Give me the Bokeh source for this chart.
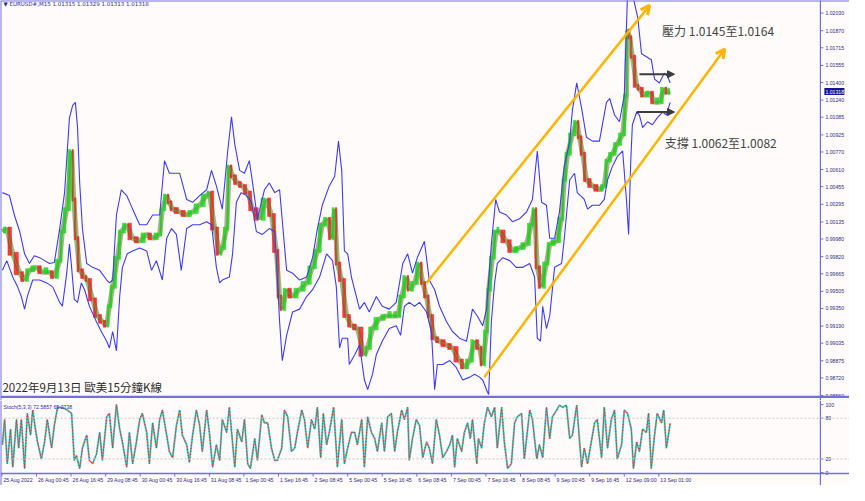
import numpy as np
from bokeh.plotting import figure
from bokeh.models import Range1d, Label, Arrow, NormalHead, OpenHead, Span
from bokeh.layouts import column
from bokeh.embed import file_html
from bokeh.resources import INLINE
from bokeh.core.properties import value

# ---------------- data ----------------
# 15-minute bar index and close price
price_bar = [1, 9, 20, 33, 42, 51, 64, 75, 88, 97,
             107, 112, 120, 129, 133, 138, 144, 153, 158, 168,
             177, 186, 194, 199, 205, 214, 221, 231, 242, 255,
             268, 279, 292, 297, 305, 310, 316, 329, 342, 353,
             366, 379, 384, 394, 403, 408, 416, 421, 427, 436,
             445, 455, 464, 477, 490, 499, 508, 514, 519, 527,
             538, 551, 564, 575, 584, 593, 603, 610, 616, 621,
             629, 638, 647, 658, 671, 677, 686, 699, 712, 723,
             733, 740, 749, 754, 764, 773, 779, 786, 792, 801,
             810, 823, 834, 847, 856, 866, 875, 884, 890, 897,
             901, 908, 915, 921, 934, 945, 958, 971, 980, 986,
             991, 999, 1008, 1014, 1027, 1036, 1041, 1047, 1056, 1064,
             1069, 1075, 1082, 1093, 1106, 1115, 1121, 1130, 1139, 1149,
             1156, 1158, 1162, 1167, 1175, 1180, 1189, 1199, 1208, 1217,
             1226, 1232, 1237]
price_close = [1.00048, 1.00075, 0.99846, 0.99670, 0.99608, 0.99696, 0.99723, 0.99679, 0.99679, 0.99635,
               0.99784, 1.00048, 1.00251, 1.00779, 1.00339, 0.99987, 0.99696, 0.99635, 0.99608, 0.99432,
               0.99282, 0.99229, 0.99194, 0.99370, 0.99546, 0.99811, 1.00048, 1.00110, 0.99987, 0.99960,
               1.00022, 0.99987, 1.00022, 1.00251, 1.00374, 1.00313, 1.00251, 1.00225, 1.00198, 1.00225,
               1.00286, 1.00374, 1.00401, 1.00075, 0.99846, 0.99899, 1.00075, 1.00639, 1.00550, 1.00489,
               1.00462, 1.00401, 1.00251, 1.00163, 1.00339, 1.00198, 0.99872, 0.99458, 0.99344, 0.99520,
               0.99458, 0.99520, 0.99582, 0.99723, 0.99872, 1.00110, 1.00163, 0.99987, 1.00251, 0.99758,
               0.99608, 0.99282, 0.99194, 0.99168, 0.98930, 0.98992, 0.99168, 0.99256, 0.99282, 0.99282,
               0.99282, 0.99458, 0.99635, 0.99520, 0.99582, 0.99758, 0.99582, 0.99458, 0.99282, 0.99080,
               0.99053, 0.99018, 0.98992, 0.98877, 0.98815, 0.98877, 0.99053, 0.98992, 0.98842, 0.99141,
               0.99520, 0.99811, 1.00048, 1.00048, 0.99960, 0.99872, 0.99899, 0.99934, 1.00110, 1.00251,
               0.99723, 0.99546, 0.99758, 0.99934, 0.99960, 1.00163, 1.00515, 1.00753, 1.00929, 1.01044,
               1.00903, 1.00753, 1.00515, 1.00462, 1.00427, 1.00462, 1.00691, 1.00753, 1.00841, 1.00929,
               1.01281, 1.01872, 1.01810, 1.01634, 1.01370, 1.01343, 1.01281, 1.01308, 1.01220, 1.01220,
               1.01343, 1.01308, 1.01318]

# upper envelope (blue)
upper_bar = [1, 14, 23, 33, 42, 51, 60, 70, 79, 88,
             97, 107, 116, 125, 131, 136, 140, 144, 149, 157,
             168, 181, 194, 199, 205, 212, 221, 231, 242, 255,
             268, 279, 292, 301, 310, 319, 329, 342, 353, 366,
             379, 388, 397, 408, 418, 425, 431, 440, 449, 458,
             464, 473, 486, 495, 505, 514, 527, 538, 551, 564,
             575, 584, 593, 606, 616, 623, 629, 634, 640, 647,
             662, 671, 680, 693, 704, 717, 730, 742, 751, 760,
             769, 782, 791, 801, 810, 823, 834, 847, 860, 871,
             880, 890, 897, 906, 914, 921, 934, 945, 958, 971,
             982, 991, 999, 1008, 1014, 1023, 1032, 1041, 1051, 1056,
             1064, 1073, 1082, 1093, 1106, 1119, 1125, 1134, 1143, 1152,
             1158, 1167, 1177, 1184, 1193, 1202, 1208, 1217, 1226, 1232,
             1237]
upper_val = [1.00401, 1.00374, 1.00198, 1.00048, 0.99846, 0.99758, 0.99828, 0.99811, 0.99784, 0.99758,
             0.99767, 1.00075, 1.00401, 1.01079, 1.01193, 1.01220, 1.00991, 1.00489, 1.00075, 0.99758,
             0.99723, 0.99696, 0.99608, 0.99582, 0.99608, 1.00198, 1.00427, 1.00374, 1.00251, 1.00110,
             1.00110, 1.00198, 1.00198, 1.00691, 1.00577, 1.00577, 1.00577, 1.00339, 1.00313, 1.00374,
             1.00427, 1.00603, 1.00462, 1.00251, 1.00779, 1.01088, 1.00841, 1.00603, 1.00577, 1.00691,
             1.00489, 1.00163, 1.00427, 1.00489, 1.00401, 1.00427, 0.99696, 0.99670, 0.99608, 0.99635,
             0.99811, 1.00075, 1.00286, 1.00462, 1.00550, 1.00868, 1.00603, 0.99872, 0.99846, 0.99635,
             0.99344, 0.99405, 0.99318, 0.99458, 0.99370, 0.99344, 0.99405, 0.99758, 0.99846, 0.99670,
             0.99811, 0.99960, 0.99608, 0.99520, 0.99370, 0.99229, 0.99141, 0.99080, 0.99053, 0.99344,
             0.99282, 0.99194, 0.99344, 0.99934, 1.00339, 1.00225, 1.00198, 1.00137, 1.00163, 1.00225,
             1.00339, 1.00779, 1.00313, 1.00286, 0.99987, 0.99987, 1.00225, 1.00639, 1.00868, 1.01150,
             1.01396, 1.01167, 1.00903, 1.00868, 1.00868, 1.01220, 1.01255, 1.01105, 1.01044, 1.01281,
             1.02206, 1.02206, 1.01986, 1.01660, 1.01634, 1.01607, 1.01431, 1.01396, 1.01484, 1.01458,
             1.01396]

# lower envelope (blue)
lower_bar = [1, 9, 20, 29, 36, 42, 47, 57, 70, 83,
             94, 107, 112, 120, 125, 129, 134, 140, 147, 153,
             162, 175, 184, 194, 199, 205, 212, 218, 223, 232,
             242, 255, 268, 277, 286, 297, 305, 314, 323, 332,
             342, 353, 366, 379, 388, 397, 403, 408, 421, 427,
             434, 443, 453, 462, 471, 482, 495, 505, 510, 514,
             519, 527, 538, 551, 564, 575, 588, 601, 612, 619,
             625, 630, 640, 643, 653, 662, 671, 677, 686, 693,
             704, 717, 730, 738, 745, 754, 764, 773, 786, 795,
             801, 806, 816, 829, 841, 853, 866, 875, 884, 890,
             897, 901, 906, 912, 917, 927, 940, 952, 964, 977,
             986, 991, 997, 1001, 1008, 1014, 1023, 1036, 1041, 1051,
             1060, 1065, 1078, 1084, 1093, 1106, 1115, 1121, 1130, 1139,
             1149, 1156, 1160, 1164, 1167, 1175, 1180, 1186, 1195, 1204,
             1213, 1223, 1230, 1237]
lower_val = [0.99696, 0.99784, 0.99635, 0.99546, 0.99458, 0.99344, 0.99458, 0.99608, 0.99608, 0.99582,
             0.99546, 0.99405, 0.99370, 0.99670, 0.99934, 0.99723, 0.99432, 0.99405, 0.99582, 0.99520,
             0.99370, 0.99229, 0.99141, 0.99053, 0.98992, 0.99141, 0.98965, 0.99458, 0.99723, 0.99846,
             0.99872, 0.99899, 0.99872, 0.99696, 0.99784, 0.99608, 0.99987, 1.00075, 1.00022, 0.99696,
             1.00075, 1.00110, 1.00110, 1.00137, 1.00110, 0.99723, 0.99582, 0.99608, 0.99635, 0.99846,
             1.00313, 1.00401, 1.00374, 1.00313, 1.00048, 1.00022, 1.00075, 1.00048, 0.99608, 0.99229,
             0.98877, 0.99106, 0.99318, 0.99344, 0.99458, 0.99520, 0.99635, 0.99846, 0.99784, 0.99546,
             0.98992, 0.99080, 0.99080, 0.98842, 0.98930, 0.99018, 0.98701, 0.98613, 0.98754, 0.98930,
             0.99053, 0.99168, 0.99194, 0.99106, 0.99370, 0.99405, 0.99370, 0.99405, 0.99318, 0.99141,
             0.98613, 0.98842, 0.98842, 0.98877, 0.98815, 0.98701, 0.98727, 0.98754, 0.98727, 0.98701,
             0.98613, 0.98569, 0.99229, 0.99582, 0.99758, 0.99811, 0.99784, 0.99723, 0.99723, 0.99758,
             0.99635, 0.99080, 0.99053, 0.99370, 0.99168, 0.99282, 0.99723, 0.99758, 0.99987, 1.00515,
             1.00577, 1.00401, 1.00339, 1.00251, 1.00286, 1.00286, 1.00339, 1.00515, 1.00639, 1.00727,
             1.00779, 1.00339, 1.00022, 1.00691, 1.01017, 1.01132, 1.01105, 1.00991, 1.01044, 1.01017,
             1.01079, 1.01132, 1.01105, 1.01220]

# Stochastic %K
stoch_bar = [1, 5, 10, 16, 20, 27, 31, 36, 42, 47, 53, 57, 62, 66, 73, 79, 84, 92, 97, 103,
             110, 116, 121, 129, 134, 138, 144, 149, 157, 162, 168, 175, 181, 186, 194, 199, 205, 212, 218, 223,
             231, 236, 242, 249, 255, 260, 268, 273, 279, 286, 292, 297, 305, 310, 316, 323, 329, 334, 342, 347,
             353, 360, 366, 371, 379, 384, 390, 397, 403, 408,
             416, 421, 431, 436, 444, 449, 455, 460, 468, 473, 481, 486, 492, 499, 505, 510, 518, 523, 529, 536,
             542, 547, 555, 560, 566, 573, 579, 584, 590, 595, 601, 606, 614, 621, 629, 634, 640, 647, 653, 658,
             666, 671, 677, 684, 690, 695, 703, 708, 714, 721, 727, 732, 740, 745, 751, 754, 760, 767, 773, 779,
             786, 791, 797, 804, 810, 816, 823,
             829, 834, 838, 843, 851, 856, 862, 867, 871, 879, 882, 888, 893, 899, 906, 912, 917, 925, 930, 936,
             943, 949, 954, 962, 967, 977, 982, 990, 995, 1001, 1008, 1014, 1019, 1027, 1032, 1038, 1045, 1051, 1056, 1064,
             1073, 1078, 1084, 1091, 1097, 1102, 1110, 1115, 1121, 1128, 1134, 1139, 1147, 1152, 1158, 1165, 1169, 1175, 1180, 1186,
             1193, 1197, 1202, 1208, 1213, 1221, 1225, 1230, 1237]
stoch_k = [41, 78, 13, 64, 8, 78, 36, 78, 6, 87, 55, 92, 64, 45, 20, 45, 78, 36, 69, 96,
           96, 94, 92, 87, 18, 25, 6, 36, 55, 18, 13, 27, 59, 18, 82, 87, 36, 100, 64, 45,
           8, 59, 13, 45, 78, 87, 59, 13, 73, 36, 78, 92, 55, 31, 22, 69, 92, 55, 41, 15,
           55, 92, 69, 31, 92, 59, 8, 41, 18, 78,
           59, 96, 8, 64, 45, 78, 13, 6, 50, 18, 85, 73, 73, 36, 18, 18, 36, 92, 82, 31,
           36, 59, 92, 78, 36, 78, 64, 96, 22, 87, 41, 59, 96, 8, 78, 13, 36, 59, 59, 41,
           78, 8, 82, 59, 50, 31, 73, 31, 82, 87, 31, 59, 92, 78, 96, 18, 50, 78, 69, 22,
           45, 36, 13, 78, 55, 22, 31,
           41, 55, 8, 50, 31, 59, 73, 50, 78, 13, 50, 36, 73, 96, 82, 96, 36, 96, 45, 6,
           13, 73, 82, 87, 20, 92, 78, 20, 41, 22, 96, 50, 82, 92, 99, 96, 99, 50, 55, 99,
           8, 36, 13, 45, 73, 78, 22, 96, 36, 78, 92, 20, 41, 92, 87, 64, 6, 45, 31, 64,
           59, 87, 6, 55, 87, 73, 92, 36, 72.59]

price_ticks = [1.02030, 1.01870, 1.01715, 1.01555, 1.01400, 1.01240, 1.01085, 1.00925,
               1.00770, 1.00610, 1.00455, 1.00295, 1.00135, 0.99980, 0.99820, 0.99665,
               0.99505, 0.99350, 0.99190, 0.99035, 0.98875, 0.98720, 0.98560]
stoch_ticks = [0, 20, 80, 100]
stoch_levels = [20, 80]
date_bars = [0, 64, 128, 192, 256, 320, 384, 448, 512, 576, 640, 704, 768, 832, 896,
             960, 1024, 1088, 1152, 1216]
date_labels = ["25 Aug 2022", "26 Aug 00:45", "26 Aug 16:45", "29 Aug 08:45", "30 Aug 00:45",
               "30 Aug 16:45", "31 Aug 08:45", "1 Sep 00:45", "1 Sep 16:45", "2 Sep 08:45",
               "5 Sep 00:45", "5 Sep 16:45", "6 Sep 08:45", "7 Sep 00:45", "7 Sep 16:45",
               "8 Sep 08:45", "9 Sep 00:45", "9 Sep 16:45", "12 Sep 09:00", "13 Sep 01:00"]
last_price = 1.01318

# drawn objects (bar, price)
chan_up_bars = [786, 1199]
chan_up_prices = [0.99582, 1.02100]
chan_lo_bars = [893, 1338]
chan_lo_prices = [0.98727, 1.01704]
res_arrow_bars = [1180, 1245]
res_arrow_price = 1.01475
sup_arrow_bars = [1175, 1245]
sup_arrow_price = 1.01132

res_text = "壓力 1.0145至1.0164"
res_text_pos = (1222, 1.01872)
sup_text = "支撐 1.0062至1.0082"
sup_text_pos = (1227, 1.00859)
title_text = "2022年9月13日 歐美15分鐘K線"
title_pos = (1, 0.98567)
header_text = "▼ EURUSD#,M15  1.01315 1.01329 1.01313 1.01318"
header_pos = (3, 1.02109)
stoch_header = "Stoch(5,3,3) 72.5857 65.2738"
stoch_header_pos = (3, 96.5)

# ---------------- layout / styling ----------------
BG = "#fffbfa"
FRAME = "#7070e2"
AXTXT = "#2e2e80"
SMALL = "Liberation Sans"
CJK = "Noto Sans CJK TC"
W = 849
PX = 1.851                 # bars per screen pixel
X0 = -2.6                  # left border (bar units)
XB = 1515                  # right border of the plotting area (price scale line)
xr = Range1d(X0, X0 + W * PX)

PRICE_LO, PRICE_HI = 0.98515, 1.02144
PRICE_BORDER = 0.98548
H1 = 400
PPX = (PRICE_HI - PRICE_LO) / H1           # price per pixel

S_LO, S_HI = -1.4, 106.0
H2 = 85
S_AREA = 73
SPX = (S_HI - S_LO) / S_AREA               # stoch units per pixel
S_BOTTOM = S_LO - (H2 - S_AREA) * SPX


def base(fig):
    fig.background_fill_color = BG
    fig.border_fill_color = BG
    fig.outline_line_color = None
    fig.grid.visible = False
    return fig


p = base(figure(width=W, height=H1, x_range=xr, y_range=Range1d(PRICE_LO, PRICE_HI),
                output_backend="svg", toolbar_location=None, x_axis_location=None,
                y_axis_location=None, min_border=0))

# frame lines
p.add_layout(Span(location=X0, dimension="height", line_color=FRAME, line_width=2))
p.add_layout(Span(location=XB, dimension="height", line_color=FRAME, line_width=1.2))
p.add_layout(Span(location=PRICE_HI, dimension="width", line_color=FRAME, line_width=2))
p.add_layout(Span(location=PRICE_BORDER, dimension="width", line_color=FRAME, line_width=2.2))

# price scale
nt = len(price_ticks)
p.segment(x0=[XB] * nt, y0=price_ticks, x1=[XB + 3 * PX] * nt, y1=price_ticks,
          line_color=FRAME, line_width=1)
p.text(x=[XB + 5 * PX] * nt, y=price_ticks, text=[f"{t:.5f}" for t in price_ticks],
       text_font=value(SMALL), text_font_size=value("5.2px"), text_color=AXTXT,
       text_baseline="middle", text_align="left")
p.quad(left=[XB + 4 * PX], right=[XB + 24 * PX], bottom=[last_price - 3.5 * PPX],
       top=[last_price + 3.5 * PPX], fill_color="#141490", line_color=None)
p.text(x=[XB + 5 * PX], y=[last_price], text=[f"{last_price:.5f}"],
       text_font=value(SMALL), text_font_size=value("5.2px"), text_color="#ffffff",
       text_baseline="middle", text_align="left")

# candles built from consecutive closes
cb = np.array(price_bar, dtype=float)
cc = np.array(price_close, dtype=float)
op, cl = cc[:-1], cc[1:]
lft, rgt = cb[:-1], cb[1:]
mid = (lft + rgt) / 2
wid = (rgt - lft) * 0.6
lo = np.minimum(op, cl) - 1.5 * PPX
hi = np.maximum(op, cl) + 1.5 * PPX
hi = np.maximum(hi, lo + 6.0 * PPX)
up = cl >= op
dn = ~up
p.line(cb, cc, line_color="#55691c", line_width=5, line_alpha=0.5)
p.vbar(x=mid[up], width=wid[up], bottom=lo[up], top=hi[up],
       fill_color="#18d818", line_color="#18d818", line_width=0.5, fill_alpha=0.8)
p.vbar(x=mid[dn], width=wid[dn], bottom=lo[dn], top=hi[dn],
       fill_color="#f01818", line_color="#f01818", line_width=0.5, fill_alpha=0.8)
p.line(cb, cc, line_color="#2fb82f", line_width=0.9, line_alpha=0.85)

# envelopes
p.line(upper_bar, upper_val, line_color="#3c3cf6", line_width=1.1)
p.line(lower_bar, lower_val, line_color="#3c3cf6", line_width=1.1)

# channel arrows
ORANGE = "#ffb400"
for bars, prices in ((chan_up_bars, chan_up_prices), (chan_lo_bars, chan_lo_prices)):
    p.add_layout(Arrow(end=OpenHead(line_color=ORANGE, line_width=3, size=9),
                       x_start=bars[0], y_start=prices[0], x_end=bars[1], y_end=prices[1],
                       line_color=ORANGE, line_width=2.5))
DARK = "#3c3c3c"
for bars, pr in ((res_arrow_bars, res_arrow_price), (sup_arrow_bars, sup_arrow_price)):
    p.add_layout(Arrow(end=NormalHead(fill_color=DARK, line_color=DARK, size=7),
                       x_start=bars[0], y_start=pr, x_end=bars[1], y_end=pr,
                       line_color=DARK, line_width=2))

# texts
p.add_layout(Label(x=res_text_pos[0], y=res_text_pos[1], text=res_text, text_font=CJK,
                   text_font_size="12px", text_color="#444444", text_baseline="middle"))
p.add_layout(Label(x=sup_text_pos[0], y=sup_text_pos[1], text=sup_text, text_font=CJK,
                   text_font_size="12px", text_color="#444444", text_baseline="middle"))
p.add_layout(Label(x=title_pos[0], y=title_pos[1], text=title_text, text_font=CJK,
                   text_font_size="11.5px", text_color="#2a2a2a", text_baseline="bottom"))
p.add_layout(Label(x=header_pos[0], y=header_pos[1], text=header_text, text_font="DejaVu Sans",
                   text_font_size="5.5px", text_color="#2a2ab8", text_baseline="middle"))

# ---------------- stochastic panel ----------------
p2 = base(figure(width=W, height=H2, x_range=xr, y_range=Range1d(S_BOTTOM, S_HI),
                 output_backend="svg", toolbar_location=None, x_axis_location=None,
                 y_axis_location=None, min_border=0))
p2.add_layout(Span(location=X0, dimension="height", line_color=FRAME, line_width=2))
p2.add_layout(Span(location=XB, dimension="height", line_color=FRAME, line_width=1.2))
p2.add_layout(Span(location=S_LO, dimension="width", line_color=FRAME, line_width=1.5))
for lvl in stoch_levels:
    p2.add_layout(Span(location=lvl, dimension="width", line_color="#c4c4c4",
                       line_dash="2 2", line_width=1))

ns = len(stoch_ticks)
p2.segment(x0=[XB] * ns, y0=stoch_ticks, x1=[XB + 3 * PX] * ns, y1=stoch_ticks,
           line_color=FRAME, line_width=1)
p2.text(x=[XB + 5 * PX] * ns, y=stoch_ticks, text=[str(t) for t in stoch_ticks],
        text_font=value(SMALL), text_font_size=value("5.2px"), text_color=AXTXT,
        text_baseline="middle", text_align="left")

nd = len(date_bars)
p2.segment(x0=date_bars, y0=[S_LO] * nd, x1=date_bars, y1=[S_LO - 3 * SPX] * nd,
           line_color=FRAME, line_width=1)
p2.text(x=[b + 1.5 * PX for b in date_bars], y=[S_LO - 6.0 * SPX] * nd, text=date_labels,
        text_font=value(SMALL), text_font_size=value("5.2px"), text_color=AXTXT,
        text_baseline="middle", text_align="left")

p2.line(stoch_bar, stoch_k, line_color="#3cc3bb", line_width=2.2, line_alpha=0.55)
p2.line(stoch_bar, stoch_k, line_color="#20a8a0", line_width=1.0)
p2.line(stoch_bar, stoch_k, line_color="#ff2a2a", line_width=1.2, line_dash="1 2")

p2.add_layout(Label(x=stoch_header_pos[0], y=stoch_header_pos[1], text=stoch_header,
                    text_font=SMALL, text_font_size="5.2px", text_color="#2a2ab8",
                    text_baseline="middle"))

layout = column(p, p2, spacing=0)
open("out.html", "w").write(file_html(layout, INLINE))
